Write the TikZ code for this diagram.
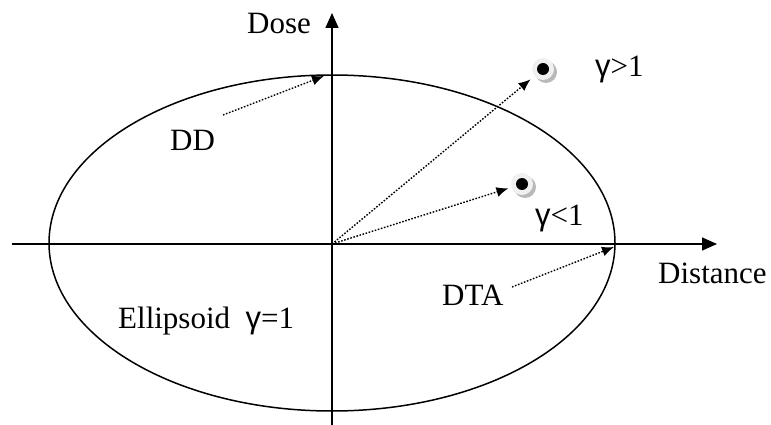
\documentclass[tikz,border=0pt]{standalone}
\usepackage{fontspec}
\setmainfont{Liberation Serif}
\newfontfamily\gammafont{Liberation Sans}
\newcommand{\gam}{{\gammafont γ}}
\usetikzlibrary{arrows.meta,shadows}
\begin{document}
\begin{tikzpicture}[x=1pt, y=-1pt, >={Latex[length=12pt,width=10pt]},
  lbl/.style={anchor=base west, inner sep=0pt, font=\fontsize{31}{37}\selectfont},
  ptr/.style={->, line width=1.4pt, dash pattern=on 1.6pt off 1.6pt},
  axis/.style={-{Triangle[length=15pt,width=13pt]}, line width=1.5pt},
  halo/.style={circle, fill=gray!12, minimum size=22pt, inner sep=0pt,
    drop shadow={shadow xshift=3pt, shadow yshift=-3pt, fill=gray!55, opacity=1}},
  dot/.style={circle, fill=black, minimum size=12pt, inner sep=0pt}]
\useasboundingbox (0,0) rectangle (771,425);
\coordinate (o) at (332,244);
% axes
\coordinate (xl) at (12,244);
\coordinate (xr) at (717,244);
\coordinate (yb) at (332,425);
\coordinate (yt) at (332,13);
\draw[axis] (xl) -- (xr);
\draw[axis] (yb) -- (yt);
\node[lbl] (dose) at (247,34) {Dose};
\node[lbl] (dist) at (658,283) {Distance};
% ellipsoid gamma = 1
\draw[line width=1.5pt] (332,243) ellipse [x radius=283pt, y radius=168pt];
\node[lbl] (ell) at (118,328) {Ellipsoid\hspace{0.5em}\gam=1};
% DD and DTA
\node[lbl] (dd) at (170,150) {DD};
\coordinate (ddtail) at (223,115);
\coordinate (ddtip) at (324,76);
\draw[ptr] (ddtail) -- (ddtip);
\node[lbl] (dta) at (442,305) {DTA};
\coordinate (dtatail) at (512,287);
\coordinate (dtatip) at (614,247);
\draw[ptr] (dtatail) -- (dtatip);
% measured points
\node[halo] at (543,69) {};
\node[dot] (gt) at (543,69) {};
\node[halo] at (522,184) {};
\node[dot] (lt) at (522,184) {};
\draw[ptr, shorten >=10pt] (o) -- (gt);
\draw[ptr, shorten >=8pt] (o) -- (lt);
\node[lbl] (gtl) at (595,77) {\gam>1};
\node[lbl] (ltl) at (535,225) {\gam<1};
\end{tikzpicture}
\end{document}
